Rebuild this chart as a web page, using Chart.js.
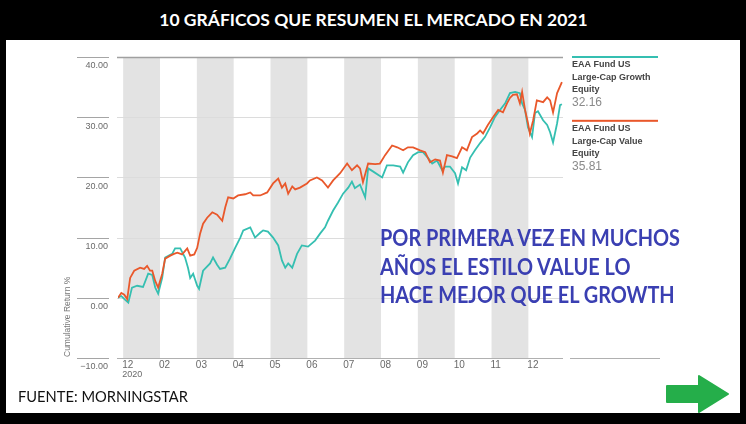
<!DOCTYPE html>
<html lang="es">
  <head>
    <meta charset="UTF-8" />
    <title>10 gráficos que resumen el mercado en 2021</title>
    <style>
      html, body { margin: 0; padding: 0; }
      body {
        width: 746px;
        height: 424px;
        background: #000;
        position: relative;
        overflow: hidden;
        font-family: Lato, "Open Sans", sans-serif;
      }
      .title {
        position: absolute;
        left: 0; top: 9px; width: 746px;
        text-align: center;
        color: #fff;
        font-weight: bold;
        font-size: 17px;
        line-height: 22px;
        white-space: nowrap;
      }
      .sheet {
        position: absolute;
        left: 6px; top: 40px; width: 734px; height: 373px;
        background: #fff;
      }
      .chart-box {
        position: absolute;
        left: 0; top: 0; width: 746px; height: 424px;
      }
      .note {
        position: absolute;
        left: 380px; top: 224px;
        color: #3a3fb2;
        font-weight: bold;
        font-size: 22px;
        line-height: 28.5px;
        white-space: nowrap;
        transform-origin: left top;
      }
      .source {
        position: absolute;
        left: 18px; top: 386px;
        font-size: 15px;
        line-height: 20px;
        color: #111;
        white-space: nowrap;
        transform-origin: left top;
      }
      .arrow { position: absolute; left: 665px; top: 374px; }
    </style>
  </head>
  <body>
    <div class="sheet"></div>
    <div class="title" id="title"><span>10 GRÁFICOS QUE RESUMEN EL MERCADO EN 2021</span></div>
    <div class="chart-box"><canvas id="myChart"></canvas></div>
    <div class="note" id="note">POR PRIMERA VEZ EN MUCHOS<br />AÑOS EL ESTILO VALUE LO<br />HACE MEJOR QUE EL GROWTH</div>
    <div class="source" id="source">FUENTE: MORNINGSTAR</div>
    <svg class="arrow" width="68" height="42" viewBox="0 0 68 42">
      <polygon points="2,12 34,12 34,2 63,20 34,38 34,28 2,28" fill="#25ae4a" stroke="#25ae4a" stroke-width="2" stroke-linejoin="round" />
    </svg>

    <script src="https://cdn.jsdelivr.net/npm/chart.js"></script>
    <script>
      // month slots on the x axis (0 = first shaded month)
      const monthLabels = ["12", "02", "03", "04", "05", "06", "07", "08", "09", "10", "11", "12"];
      const yTicks = [40, 30, 20, 10, 0, -10];

      // EAA Fund US Large-Cap Value Equity (orange)
      const valueMonths = [
        -0.14, -0.05, 0.03, 0.11, 0.19, 0.30, 0.46, 0.57, 0.65, 0.73, 0.79, 0.87, 0.95,
        1.06, 1.14, 1.28, 1.38, 1.47, 1.60, 1.74, 1.82, 1.93, 2.01, 2.09, 2.17, 2.28,
        2.42, 2.55, 2.69, 2.77, 2.85, 2.99, 3.12, 3.31, 3.45, 3.53, 3.72, 3.91, 4.07,
        4.21, 4.31, 4.40, 4.48, 4.59, 4.67, 4.80, 4.99, 5.07, 5.26, 5.40, 5.56, 5.70,
        5.89, 6.08, 6.21, 6.35, 6.43, 6.51, 6.65, 6.84, 6.97, 7.11, 7.30, 7.44, 7.60,
        7.73, 7.87, 8.06, 8.20, 8.33, 8.47, 8.60, 8.68, 8.79, 8.93, 9.06, 9.20, 9.33,
        9.47, 9.61, 9.69, 9.77, 9.90, 10.04, 10.18, 10.31, 10.42, 10.50, 10.58, 10.69,
        10.77, 10.83, 10.91, 10.99, 11.04, 11.13, 11.23, 11.40, 11.51, 11.59, 11.67,
        11.78, 11.91
      ];
      const valueReturns = [
        0.0, 0.8, 0.5, -0.2, 3.3, 4.5, 5.0, 4.8, 5.3, 4.5, 4.5, 2.8, 1.7,
        4.0, 6.5, 7.0, 7.3, 7.5, 7.2, 8.2, 7.0, 7.2, 8.3, 10.7, 12.3, 13.3,
        14.2, 13.8, 12.8, 15.0, 16.7, 16.5, 17.0, 17.2, 17.5, 17.0, 17.0, 17.5, 19.0,
        19.8, 18.3, 19.0, 17.3, 18.5, 18.0, 18.3, 19.0, 19.5, 20.0, 19.5, 18.3, 19.5,
        20.7, 22.3, 21.2, 22.0, 21.5, 19.2, 22.3, 22.2, 22.3, 23.7, 25.3, 25.0, 24.5,
        25.0, 25.0, 24.5, 24.2, 22.5, 23.0, 22.8, 20.8, 23.7, 23.5, 23.2, 25.0, 24.5,
        26.7, 27.3, 27.8, 27.3, 28.7, 30.0, 31.2, 30.8, 32.3, 33.2, 33.7, 33.8,
        32.3, 34.2, 31.2, 29.0, 27.3, 29.5, 32.8, 32.5, 33.3, 32.8, 30.8,
        34.0, 35.81
      ];

      // EAA Fund US Large-Cap Growth Equity (teal)
      const growthMonths = [
        -0.14, -0.05, 0.05, 0.14, 0.24, 0.38, 0.54, 0.68, 0.79, 0.87, 0.95,
        1.06, 1.14, 1.33, 1.41, 1.55, 1.68, 1.76, 1.82, 1.90, 2.01, 2.06, 2.17, 2.36,
        2.44, 2.55, 2.63, 2.77, 2.90, 3.04, 3.18, 3.26, 3.45, 3.58, 3.72, 3.80, 3.93,
        4.07, 4.21, 4.31, 4.40, 4.48, 4.59, 4.72, 4.85, 5.02, 5.21, 5.35, 5.48, 5.56,
        5.70, 5.83, 5.97, 6.11, 6.21, 6.29, 6.43, 6.57, 6.65, 6.78, 7.03, 7.16, 7.33,
        7.52, 7.60, 7.73, 7.87, 8.01, 8.14, 8.28, 8.39, 8.52, 8.66, 8.74, 8.87, 9.01,
        9.09, 9.20, 9.31, 9.42, 9.55, 9.69, 9.82, 9.96, 10.09, 10.23, 10.37, 10.50,
        10.64, 10.77, 10.83, 10.91, 10.99, 11.10, 11.18, 11.26, 11.40, 11.51, 11.59,
        11.67, 11.78, 11.86, 11.91
      ];
      const growthReturns = [
        0.0, 0.3, -0.3, -0.8, 1.7, 2.0, 1.8, 4.0, 3.8, 1.7, 0.7,
        3.3, 6.7, 7.3, 8.2, 8.2, 6.7, 5.0, 3.3, 4.0, 2.0, 1.5, 4.5, 5.7,
        6.7, 5.5, 4.8, 5.0, 6.5, 8.3, 10.0, 11.2, 11.7, 10.0, 10.8, 11.2, 11.0,
        10.0, 8.7, 6.2, 5.0, 5.7, 5.0, 7.3, 8.7, 8.5, 9.5, 10.7, 11.7, 12.8,
        14.5, 15.8, 17.3, 18.3, 19.3, 18.2, 18.8, 16.7, 21.5, 21.0, 20.0, 22.0, 22.0,
        21.8, 20.8, 22.5, 23.7, 24.2, 24.2, 23.2, 22.3, 22.8, 21.2, 21.8, 21.8, 20.7,
        19.0, 21.7, 21.2, 23.3, 24.5, 25.7, 26.7, 28.3, 30.0, 31.2, 32.3, 34.0,
        34.2, 34.0, 32.3, 31.2, 28.3, 26.7, 30.7, 31.0, 29.5, 28.7, 27.5,
        25.8, 29.0, 32.0, 32.16
      ];

      const valueColor = "#e9582b";
      const growthColor = "#35bfb1";

      const toPoints = (xs, ys) => xs.map((x, i) => ({ x: x, y: ys[i] }));

      // shaded months, grid lines, tick labels and the side legend
      const morningstarLook = {
        id: "morningstarLook",
        beforeDatasetsDraw(chart) {
          const { ctx, chartArea, scales } = chart;
          const xs = scales.x, ys = scales.y;
          ctx.save();
          ctx.fillStyle = "#e3e3e3";
          for (let i = 0; i < monthLabels.length; i += 2) {
            const x0 = xs.getPixelForValue(i);
            const x1 = xs.getPixelForValue(i + 1);
            ctx.fillRect(x0, chartArea.top, x1 - x0, chartArea.bottom - chartArea.top);
          }
          yTicks.forEach((v) => {
            const y = Math.round(ys.getPixelForValue(v)) + 0.5;
            ctx.lineWidth = 1;
            ctx.strokeStyle = "#a5a5a5";
            ctx.beginPath();
            ctx.moveTo(77, y);
            ctx.lineTo(109, y);
            ctx.stroke();
            ctx.strokeStyle = v === 40 ? "#a0a0a0" : v === -10 ? "#b0b0b0" : "#dcdcdc";
            ctx.lineWidth = v === 40 ? 1.5 : 1;
            ctx.beginPath();
            ctx.moveTo(chartArea.left - 1, y);
            ctx.lineTo(chartArea.right, y);
            if (v === -10) {
              ctx.moveTo(chartArea.right + 7, y);
              ctx.lineTo(660, y);
            }
            ctx.stroke();
          });
          ctx.restore();
        },
        afterDraw(chart) {
          const { ctx, chartArea, scales } = chart;
          const xs = scales.x, ys = scales.y;
          ctx.save();
          ctx.fillStyle = "#6a6a6a";
          ctx.font = "9px Arial, 'Liberation Sans', sans-serif";
          ctx.textAlign = "right";
          ctx.textBaseline = "middle";
          yTicks.forEach((v) => {
            const y = ys.getPixelForValue(v);
            ctx.fillText(v < 0 ? "\u2212" + Math.abs(v).toFixed(2) : v.toFixed(2), 108, y + 9);
          });
          ctx.textAlign = "left";
          ctx.font = "10px Arial, 'Liberation Sans', sans-serif";
          monthLabels.forEach((lab, i) => {
            ctx.fillText(lab, xs.getPixelForValue(i) - 1, chartArea.bottom + 7);
          });
          ctx.font = "9px Arial, 'Liberation Sans', sans-serif";
          ctx.fillText("2020", xs.getPixelForValue(0) - 1, chartArea.bottom + 17);

          // axis title
          ctx.save();
          ctx.translate(68, chartArea.bottom - 1);
          ctx.rotate(-Math.PI / 2);
          ctx.font = "8.5px Arial, 'Liberation Sans', sans-serif";
          ctx.fillStyle = "#777";
          ctx.fillText("Cumulative Return %", 0, 0);
          ctx.restore();

          // legend
          const entries = [
            { color: growthColor, lines: ["EAA Fund US", "Large-Cap Growth", "Equity"], last: growthReturns[growthReturns.length - 1], top: ys.getPixelForValue(40) },
            { color: valueColor, lines: ["EAA Fund US", "Large-Cap Value", "Equity"], last: valueReturns[valueReturns.length - 1], top: ys.getPixelForValue(29.4) }
          ];
          entries.forEach((e) => {
            ctx.fillStyle = e.color;
            ctx.fillRect(572, e.top - 1, 86, 2);
            ctx.fillStyle = "#444";
            ctx.font = "bold 9px 'Liberation Sans Narrow', 'Arial Narrow', Arial, sans-serif";
            e.lines.forEach((t, j) => ctx.fillText(t, 572, e.top + 8 + j * 12.5));
            ctx.fillStyle = "#8a8a8a";
            ctx.font = "12px Arial, 'Liberation Sans', sans-serif";
            ctx.fillText(e.last.toFixed(2), 572, e.top + 46);
          });
          ctx.restore();
        }
      };

      const ctx = document.getElementById("myChart").getContext("2d");
      const myChart = new Chart(ctx, {
        type: "line",
        data: {
          datasets: [
            {
              label: "EAA Fund US Large-Cap Value Equity",
              data: toPoints(valueMonths, valueReturns),
              borderColor: valueColor,
              borderWidth: 1.8,
              pointRadius: 0,
              tension: 0
            },
            {
              label: "EAA Fund US Large-Cap Growth Equity",
              data: toPoints(growthMonths, growthReturns),
              borderColor: growthColor,
              borderWidth: 1.8,
              pointRadius: 0,
              tension: 0
            }
          ]
        },
        options: {
          responsive: true,
          maintainAspectRatio: false,
          animation: false,
          events: [],
          layout: { padding: { left: 118, right: 183, top: 57, bottom: 66 } },
          scales: {
            x: { type: "linear", min: -0.14, max: 11.94, display: false },
            y: { min: -10, max: 40, display: false }
          },
          plugins: { legend: { display: false }, tooltip: { enabled: false } }
        },
        plugins: [morningstarLook]
      });

      // squeeze the HTML texts to the widths they have in the picture
      function fitWidth(el, target) {
        const w = el.getBoundingClientRect().width;
        if (w > 0) el.style.transform = "scaleX(" + (target / w).toFixed(3) + ")";
      }
      const titleSpan = document.querySelector("#title span");
      titleSpan.style.display = "inline-block";
      fitWidth(titleSpan, 428);
      const note = document.getElementById("note");
      note.style.display = "inline-block";
      const firstLine = document.createElement("span");
      firstLine.textContent = "POR PRIMERA VEZ EN MUCHOS";
      firstLine.style.font = getComputedStyle(note).font;
      firstLine.style.position = "absolute";
      firstLine.style.visibility = "hidden";
      document.body.appendChild(firstLine);
      const lw = firstLine.getBoundingClientRect().width;
      note.style.transform = "scaleX(" + (300 / lw).toFixed(3) + ")";
      fitWidth(document.getElementById("source"), 170);
    </script>
  </body>
</html>
